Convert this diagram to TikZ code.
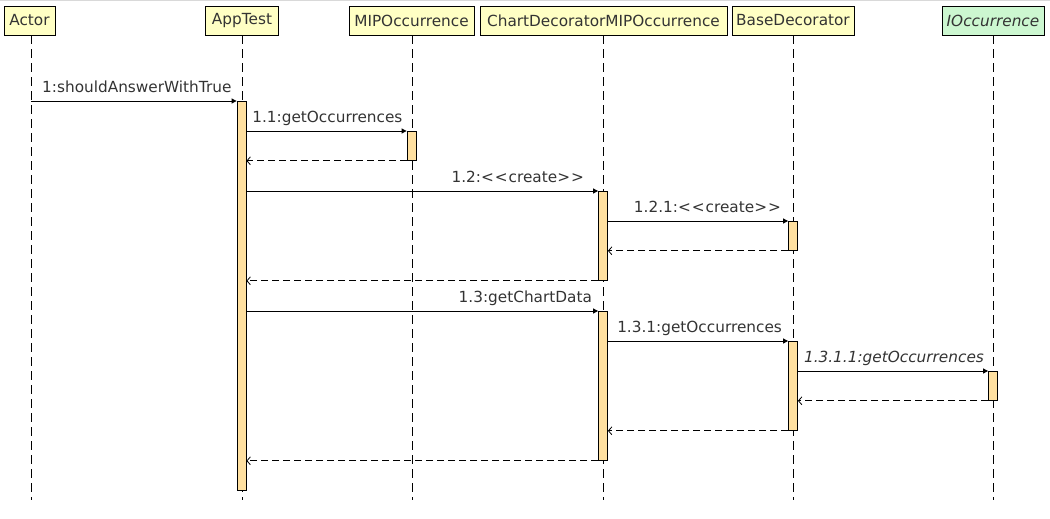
\documentclass[tikz,border=0pt]{standalone}
\usepackage{fontspec}
\setmainfont{DejaVu Sans}[Ligatures=NoCommon]
\usetikzlibrary{arrows.meta}
\definecolor{headfill}{HTML}{FFFFC4}
\definecolor{ifacefill}{HTML}{CCF7D0}
\definecolor{actfill}{HTML}{FFE0A0}
\definecolor{txt}{HTML}{333333}
\tikzset{
  head/.style={draw=black, fill=headfill, line width=0.8pt, minimum height=29pt, inner xsep=3pt, inner ysep=0pt, text=txt, font=\fontsize{15.3}{17}\selectfont},
  iface/.style={head, fill=ifacefill, font=\fontsize{15.3}{17}\selectfont\itshape},
  life/.style={line width=0.8pt, dash pattern=on 9pt off 5pt},
  act/.style={draw=black, fill=actfill, line width=0.8pt, minimum width=9pt, inner sep=0pt},
  call/.style={line width=0.8pt, -{Triangle[length=5pt,width=5pt]}},
  ret/.style={line width=0.8pt, dash pattern=on 7pt off 4pt, -{Straight Barb[length=3.5pt,width=8pt]}},
  lbl/.style={anchor=base east, inner sep=0pt, text=txt, font=\fontsize{15.3}{17}\selectfont},
  ilbl/.style={lbl, font=\fontsize{15.3}{17}\selectfont\itshape}
}
\newcommand{\lt}{\textless\kern1pt}
\newcommand{\gt}{\textgreater\kern1pt}
\begin{document}
\begin{tikzpicture}[x=1pt,y=-1pt]
\useasboundingbox (0,0) rectangle (1050,519);
\draw[black!15, line width=1.5pt] (0,0.75) -- (1050,0.75);
% heads
\node[head, minimum width=51pt] (hActor) at (29.5,20.5) {Actor};
\node[head, minimum width=73pt] (hApp) at (242,20.5) {AppTest};
\node[head, minimum width=125pt] (hMIP) at (411.5,20.5) {MIPOccurrence};
\node[head, minimum width=247pt] (hChart) at (603.5,20.5) {ChartDecoratorMIPOccurrence};
\node[head, minimum width=122pt] (hBase) at (793,20.5) {BaseDecorator};
\node[iface, minimum width=102pt] (hIO) at (993,20.5) {IOccurrence};
% lifeline ends
\coordinate (eActor) at (31,500);
\coordinate (eApp) at (242,500);
\coordinate (eMIP) at (412,500);
\coordinate (eChart) at (603,500);
\coordinate (eBase) at (793,500);
\coordinate (eIO) at (993,500);
\draw[life] (hActor.south -| eActor) -- (eActor);
\draw[life] (hApp.south -| eApp) -- (eApp);
\draw[life] (hMIP.south -| eMIP) -- (eMIP);
\draw[life] (hChart.south -| eChart) -- (eChart);
\draw[life] (hBase.south -| eBase) -- (eBase);
\draw[life] (hIO.south -| eIO) -- (eIO);
% activations
\node[act, anchor=north, minimum height=389pt] (aApp) at (241.5,101) {};
\node[act, anchor=north, minimum height=29pt] (aMIP) at (411.5,131) {};
\node[act, anchor=north, minimum height=89pt] (aChart1) at (603,191) {};
\node[act, anchor=north, minimum height=29pt] (aBase1) at (793,221) {};
\node[act, anchor=north, minimum height=149pt] (aChart2) at (603,311) {};
\node[act, anchor=north, minimum height=89pt] (aBase2) at (793,341) {};
\node[act, anchor=north, minimum height=29pt] (aIO) at (993,371) {};
% messages
\draw[call] (eActor |- aApp.north) -- (aApp.north west);
\node[lbl] at ([xshift=-5pt,yshift=8.5pt]aApp.north west) {1:shouldAnswerWithTrue};
\draw[call] (aApp.east |- aMIP.north) -- (aMIP.north west);
\node[lbl] at ([xshift=-4pt,yshift=8.5pt]aMIP.north west) {1.1:getOccurrences};
\draw[ret] (aMIP.south west) -- (aMIP.south west -| aApp.east);
\draw[call] (aApp.east |- aChart1.north) -- (aChart1.north west);
\node[lbl] at ([xshift=-13pt,yshift=8.5pt]aChart1.north west) {1.2:\lt\lt{}create\gt\gt};
\draw[call] (aChart1.north east |- aBase1.north) -- (aBase1.north west);
\node[lbl] at ([xshift=-6pt,yshift=8.5pt]aBase1.north west) {1.2.1:\lt\lt{}create\gt\gt};
\draw[ret] (aBase1.south west) -- (aBase1.south west -| aChart1.east);
\draw[ret] (aChart1.south west) -- (aChart1.south west -| aApp.east);
\draw[call] (aApp.east |- aChart2.north) -- (aChart2.north west);
\node[lbl] at ([xshift=-6pt,yshift=8.5pt]aChart2.north west) {1.3:getChartData};
\draw[call] (aChart2.east |- aBase2.north) -- (aBase2.north west);
\node[lbl] at ([xshift=-6pt,yshift=8.5pt]aBase2.north west) {1.3.1:getOccurrences};
\draw[call] (aBase2.east |- aIO.north) -- (aIO.north west);
\node[ilbl] at ([xshift=-4pt,yshift=8.5pt]aIO.north west) {1.3.1.1:getOccurrences};
\draw[ret] (aIO.south west) -- (aIO.south west -| aBase2.east);
\draw[ret] (aBase2.south west) -- (aBase2.south west -| aChart2.east);
\draw[ret] (aChart2.south west) -- (aChart2.south west -| aApp.east);
\end{tikzpicture}
\end{document}
